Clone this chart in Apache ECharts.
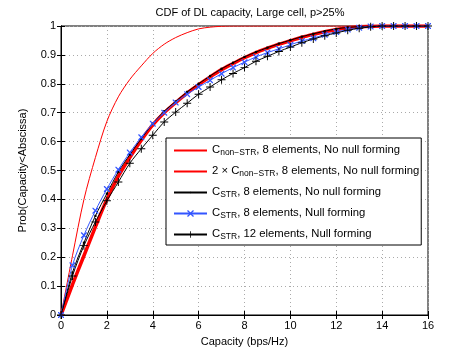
<!DOCTYPE html>
<html>
<head>
<meta charset="utf-8">
<script src="https://cdn.jsdelivr.net/npm/echarts@6/dist/echarts.min.js"></script>
<style>
html, body { margin: 0; padding: 0; background: #fff; }
#main { width: 472px; height: 355px; }
</style>
</head>
<body>
<div id="main"></div>
<script>
// capacity (bps/Hz), one point every 0.5
var capacity = [0, 0.5, 1, 1.5, 2, 2.5, 3, 3.5, 4, 4.5, 5, 5.5, 6, 6.5, 7, 7.5, 8,
    8.5, 9, 9.5, 10, 10.5, 11, 11.5, 12, 12.5, 13, 13.5, 14, 14.5, 15, 15.5, 16];

var cNonStr = [0, 0.205, 0.40, 0.545, 0.67, 0.755, 0.815, 0.862, 0.905, 0.937, 0.96, 0.977, 0.99, 0.996, 0.999,
    1, 1, 1, 1, 1, 1, 1, 1, 1, 1, 1, 1, 1, 1, 1, 1, 1, 1];
var twoCNonStr = [0, 0.105, 0.205, 0.305, 0.40, 0.48, 0.545, 0.605, 0.658, 0.70, 0.735, 0.768, 0.797, 0.824, 0.849,
    0.87, 0.89, 0.908, 0.923, 0.937, 0.949, 0.961, 0.971, 0.98, 0.988, 0.994, 0.997, 0.999, 1, 1, 1, 1, 1];
var cStr8 = [0, 0.147, 0.25, 0.343, 0.42, 0.495, 0.555, 0.61, 0.662, 0.705, 0.739, 0.772, 0.80, 0.827, 0.852,
    0.873, 0.893, 0.91, 0.925, 0.939, 0.951, 0.963, 0.973, 0.982, 0.99, 0.995, 0.998, 1, 1, 1, 1, 1, 1];
var cStr8Null = [0, 0.172, 0.276, 0.361, 0.436, 0.503, 0.562, 0.615, 0.662, 0.70, 0.735, 0.764, 0.789, 0.812, 0.835,
    0.856, 0.875, 0.893, 0.908, 0.921, 0.935, 0.948, 0.958, 0.97, 0.979, 0.988, 0.994, 0.998, 1, 1, 1, 1, 1];
var cStr12Null = [0, 0.135, 0.24, 0.322, 0.395, 0.46, 0.525, 0.575, 0.622, 0.668, 0.702, 0.733, 0.764, 0.789, 0.814,
    0.836, 0.856, 0.878, 0.895, 0.912, 0.927, 0.942, 0.955, 0.966, 0.976, 0.985, 0.992, 0.997, 1, 1, 1, 1, 1];

var legendLabels = {
    cNonStr: '{a|C}{s|non\u2212STR}{a|, 8 elements, No null forming}',
    twoCNonStr: '{a|2 \u00d7 C}{s|non\u2212STR}{a|, 8 elements, No null forming}',
    cStr8: '{a|C}{s|STR}{a|, 8 elements, No null forming}',
    cStr8Null: '{a|C}{s|STR}{a|, 8 elements, Null forming}',
    cStr12Null: '{a|C}{s|STR}{a|, 12 elements, Null forming}'
};

var FONT = 'Liberation Sans, Arial, Helvetica, sans-serif';
// small dot in the middle of a padded box so the legend shows it small too
var dotMark = 'path://M0,0 M10,10 M4,4 L6,4 L6,6 L4,6 Z';
var xMark = 'path://M0,0 L1.5,0 L5,3.5 L8.5,0 L10,0 L10,1.5 L6.5,5 L10,8.5 L10,10 L8.5,10 L5,6.5 L1.5,10 L0,10 L0,8.5 L3.5,5 L0,1.5 Z';
var plusMark = 'path://M4.4,0 L5.6,0 L5.6,4.4 L10,4.4 L10,5.6 L5.6,5.6 L5.6,10 L4.4,10 L4.4,5.6 L0,5.6 L0,4.4 L4.4,4.4 Z';

function pairs(ys) {
    return capacity.map(function (x, i) { return [x, ys[i]]; });
}

var myChart = echarts.init(document.getElementById('main'));

function line(name, ys, color, width, symbol, size) {
    return {
        name: name,
        type: 'line',
        data: pairs(ys),
        smooth: 0.3,
        showSymbol: symbol !== 'none',
        showAllSymbol: true,
        symbol: symbol,
        symbolSize: size,
        lineStyle: { color: color, width: width },
        itemStyle: { color: color },
        emphasis: { disabled: true },
        animation: false
    };
}

var option = {
    animation: false,
    textStyle: { fontFamily: FONT },
    title: {
        text: 'CDF of DL capacity, Large cell, p>25%',
        left: 245,
        textAlign: 'center',
        top: 2,
        textStyle: { fontSize: 11, fontWeight: 'normal', color: '#000', fontFamily: FONT }
    },
    grid: {
        left: 61, right: 44, top: 26, bottom: 40,
        show: true, borderColor: '#000', borderWidth: 1
    },
    legend: {
        data: [
            { name: 'cNonStr', itemStyle: { opacity: 0 } },
            { name: 'twoCNonStr', itemStyle: { opacity: 0 } },
            { name: 'cStr8' },
            { name: 'cStr8Null' },
            { name: 'cStr12Null' }
        ],
        orient: 'vertical',
        left: 166,
        top: 138,
        width: 253,
        padding: [2, 2, 4, 7],
        itemGap: 4,
        itemWidth: 33,
        itemHeight: 8,
        backgroundColor: '#fff',
        borderColor: '#000',
        borderWidth: 1,
        selectedMode: false,
        formatter: function (n) { return legendLabels[n]; },
        textStyle: {
            rich: {
                a: { fontSize: 11.3, fontFamily: FONT, color: '#000', verticalAlign: 'top', lineHeight: 13 },
                s: { fontSize: 8.5, fontFamily: FONT, color: '#000', verticalAlign: 'bottom', lineHeight: 9, padding: [8, 0, 0, 0] }
            }
        }
    },
    xAxis: [{
        type: 'value',
        min: 0, max: 16, interval: 2,
        name: 'Capacity (bps/Hz)',
        nameLocation: 'middle',
        nameGap: 21,
        nameTextStyle: { fontSize: 11, color: '#000', fontFamily: FONT },
        axisLine: { lineStyle: { color: '#000', width: 1 } },
        axisTick: { inside: true, length: 4, lineStyle: { color: '#000' } },
        axisLabel: { fontSize: 11, color: '#000', margin: 5, fontFamily: FONT },
        splitLine: { show: true, lineStyle: { color: '#aaa', type: [1, 3], width: 1 } }
    }, {
        type: 'value', position: 'top',
        min: 0, max: 16, interval: 2,
        axisLine: { show: true, lineStyle: { color: '#000' } },
        axisTick: { inside: true, length: 4, lineStyle: { color: '#000' } },
        axisLabel: { show: false },
        splitLine: { show: false }
    }],
    yAxis: [{
        type: 'value',
        min: 0, max: 1, interval: 0.1,
        name: 'Prob(Capacity<Abscissa)',
        nameLocation: 'middle',
        nameGap: 33,
        nameTextStyle: { fontSize: 11, color: '#000', fontFamily: FONT },
        axisLine: { show: true, lineStyle: { color: '#000', width: 1 } },
        axisTick: { show: true, inside: true, length: 4, lineStyle: { color: '#000' } },
        axisLabel: { fontSize: 11, color: '#000', margin: 5, fontFamily: FONT },
        splitLine: { show: true, lineStyle: { color: '#aaa', type: [1, 3], width: 1 } }
    }, {
        type: 'value', position: 'right',
        min: 0, max: 1, interval: 0.1,
        axisLine: { show: true, lineStyle: { color: '#000' } },
        axisTick: { show: true, inside: true, length: 4, lineStyle: { color: '#000' } },
        axisLabel: { show: false },
        splitLine: { show: false }
    }],
    series: [
        line('cNonStr', cNonStr, '#ff0000', 1, 'none', 0),
        line('twoCNonStr', twoCNonStr, '#ff0000', 3.5, 'none', 0),
        line('cStr8', cStr8, '#000000', 1, dotMark, 11),
        line('cStr8Null', cStr8Null, '#3355ff', 1, xMark, 6),
        line('cStr12Null', cStr12Null, '#000000', 1, plusMark, 8)
    ]
};
myChart.setOption(option);
</script>
</body>
</html>
